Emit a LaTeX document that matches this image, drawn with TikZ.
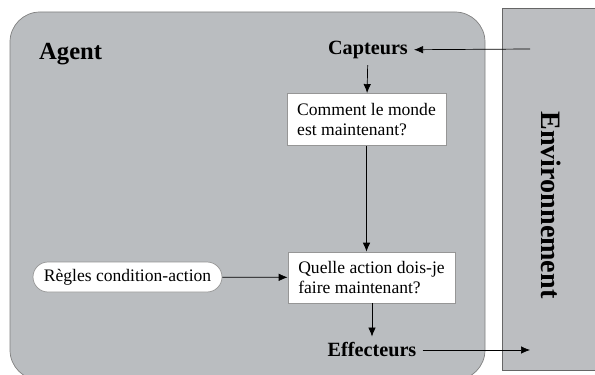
\documentclass[tikz,border=0pt]{standalone}
\usepackage{fontspec}
\setmainfont{Liberation Serif}
\usepackage{tikz}
\usetikzlibrary{arrows.meta,positioning,shapes.geometric}
\definecolor{agentgray}{RGB}{186,189,192}
\definecolor{envgray}{RGB}{188,190,193}
\definecolor{boxline}{RGB}{150,150,150}
\begin{document}
\begin{tikzpicture}[
    >={Latex[length=1.8mm,width=1.5mm]},
    font=\fontsize{10}{11.5}\selectfont,
    state/.style={
		rectangle,
		draw=boxline,
		fill=white,
		align=left,
		minimum width=3.18cm,
		minimum height=10.4mm,
		inner sep=1mm
	},
	rules/.style={
		rectangle,
		rounded corners=3mm,
		draw=boxline,
		fill=white,
		minimum width=3.78cm,
		minimum height=6mm
	},
	port/.style={
		font=\fontsize{11.5}{13}\selectfont\bfseries
	}
  ]
  \useasboundingbox (0,0) rectangle (11.9,-7.48);

  % background blocks
  \draw [draw=gray, fill=agentgray, rounded corners=6mm]
    (0.2,-0.24) rectangle (9.7,-7.6);
  \draw [draw=gray!80!black, fill=envgray] (10.04,-0.16) rectangle (11.95,-7.4);

  \node [font=\fontsize{14}{16}\selectfont\bfseries, anchor=west] (agent) at (0.66,-1.08) {Agent};
  \node [font=\fontsize{16}{18}\selectfont\bfseries, rotate=-90] (env) at (11.02,-4.1) {Environnement};

  % the blocks
  \node [port] (capteurs) at (7.36,-1.0) {Capteurs};
  \node [state, below=0.56cm of capteurs.south, anchor=north, xshift=-0.03cm] (monde)
  {Comment le monde\\est maintenant?};
  \node [state, minimum width=3.34cm, minimum height=10.2mm] (action) at (7.43,-5.55)
  {Quelle action dois-je\\faire maintenant?};
  \node [rules] (regles) at (2.55,-5.54) {R\`egles condition-action};
  \node [port] (effecteurs) at (7.44,-7.0) {Effecteurs};

  \coordinate (envin) at (10.6,-0.98);
  \coordinate (envout) at (10.6,-7.0);

  \draw [->] (envin) -- (capteurs);
  \draw [->] (capteurs) -- (monde);
  \draw [->] (monde.south) -- (monde.south |- action.north);
  \draw [->] (regles) -- (action);
  \draw [->] (action.south -| effecteurs) -- (effecteurs);
  \draw [->] (effecteurs) -- (envout);

\end{tikzpicture}
\end{document}
